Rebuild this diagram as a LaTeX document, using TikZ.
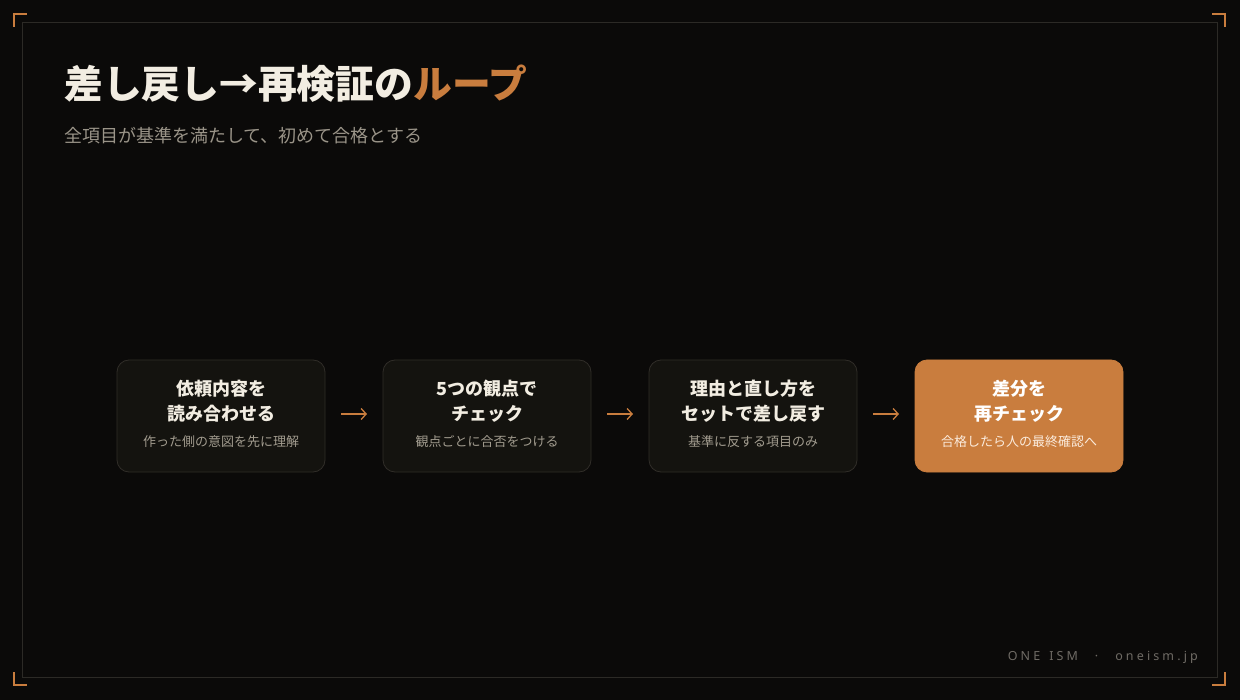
\documentclass[tikz,border=0pt]{standalone}
\usepackage{fontspec}
\setmainfont{Noto Sans CJK JP}
\newfontfamily\footfont[LetterSpace=25]{Noto Sans}
\usetikzlibrary{positioning,arrows.meta}
\definecolor{bg}{HTML}{0B0A09}
\definecolor{frame}{HTML}{2C2A26}
\definecolor{boxfill}{HTML}{14130F}
\definecolor{boxline}{HTML}{302D28}
\definecolor{accent}{HTML}{C97D3E}
\definecolor{cream}{HTML}{F2EDE2}
\definecolor{subgray}{HTML}{A29C8F}
\definecolor{footgray}{HTML}{6F6B65}
\definecolor{lightnote}{HTML}{FBEBDC}
\tikzset{
  stepbox/.style={draw=boxline,fill=boxfill,rounded corners=12pt,minimum width=208pt,minimum height=112pt,line width=0.8pt,inner sep=0pt,outer sep=0pt},
  lastbox/.style={stepbox,draw=accent,fill=accent},
  head/.style={font=\bfseries\fontsize{18}{25}\selectfont,text=cream,align=center,inner sep=0pt},
  note/.style={font=\fontsize{13}{15}\selectfont,text=subgray,inner sep=0pt},
  flow/.style={draw=accent,line width=1.3pt,-{Straight Barb[length=5pt,width=11pt]},shorten <=16pt,shorten >=16pt},
  corner/.style={draw=accent,line width=2pt}
}
\begin{document}
\begin{tikzpicture}[x=1pt,y=-1pt]
  \fill[bg] (0,0) rectangle (1240,700);
  \useasboundingbox (0,0) rectangle (1240,700);
  \draw[frame,line width=1pt] (22.5,22.5) rectangle (1217.5,677.5);
  \draw[corner] (14,27) -- (14,14) -- (27,14);
  \draw[corner] (1212,14) -- (1225,14) -- (1225,27);
  \draw[corner] (14,672) -- (14,685) -- (27,685);
  \draw[corner] (1212,685) -- (1225,685) -- (1225,672);
  \node[anchor=base west,inner sep=0pt,text=cream,font=\bfseries\fontsize{38.8}{44}\selectfont] (title) at (64,99) {差し戻し→再検証の\textcolor{accent}{ループ}};
  \node[anchor=base west,inner sep=0pt,text=subgray!95!black,font=\fontsize{18}{22}\selectfont] (subtitle) at (64,143) {全項目が基準を満たして、初めて合格とする};
  \node[stepbox] (read) at (221,416) {};
  \node[stepbox,right=58pt of read] (check) {};
  \node[stepbox,right=58pt of check] (send) {};
  \node[lastbox,right=58pt of send] (recheck) {};
  \node[head] (readhead) at ([yshift=14.5pt]read.center) {依頼内容を\\読み合わせる};
  \node[note] (readnote) at ([yshift=-26pt]read.center) {作った側の意図を先に理解};
  \node[head] (checkhead) at ([yshift=14.5pt]check.center) {5つの観点で\\チェック};
  \node[note] (checknote) at ([yshift=-26pt]check.center) {観点ごとに合否をつける};
  \node[head] (sendhead) at ([yshift=14.5pt]send.center) {理由と直し方を\\セットで差し戻す};
  \node[note] (sendnote) at ([yshift=-26pt]send.center) {基準に反する項目のみ};
  \node[head,text=white] (recheckhead) at ([yshift=14.5pt]recheck.center) {差分を\\再チェック};
  \node[note,text=lightnote] (rechecknote) at ([yshift=-26pt]recheck.center) {合格したら人の最終確認へ};
  \draw[flow] ([yshift=2pt]read.east) -- ([yshift=2pt]check.west);
  \draw[flow] ([yshift=2pt]check.east) -- ([yshift=2pt]send.west);
  \draw[flow] ([yshift=2pt]send.east) -- ([yshift=2pt]recheck.west);
  \node[anchor=east,inner sep=0pt,text=footgray,font=\footfont\fontsize{12.5}{15}\selectfont] (brand) at (1198,657) {\mbox{ONE}\hspace{9pt}\mbox{ISM}\hspace{17pt}\mbox{·}\hspace{17pt}\mbox{oneism.jp}};
\end{tikzpicture}
\end{document}
